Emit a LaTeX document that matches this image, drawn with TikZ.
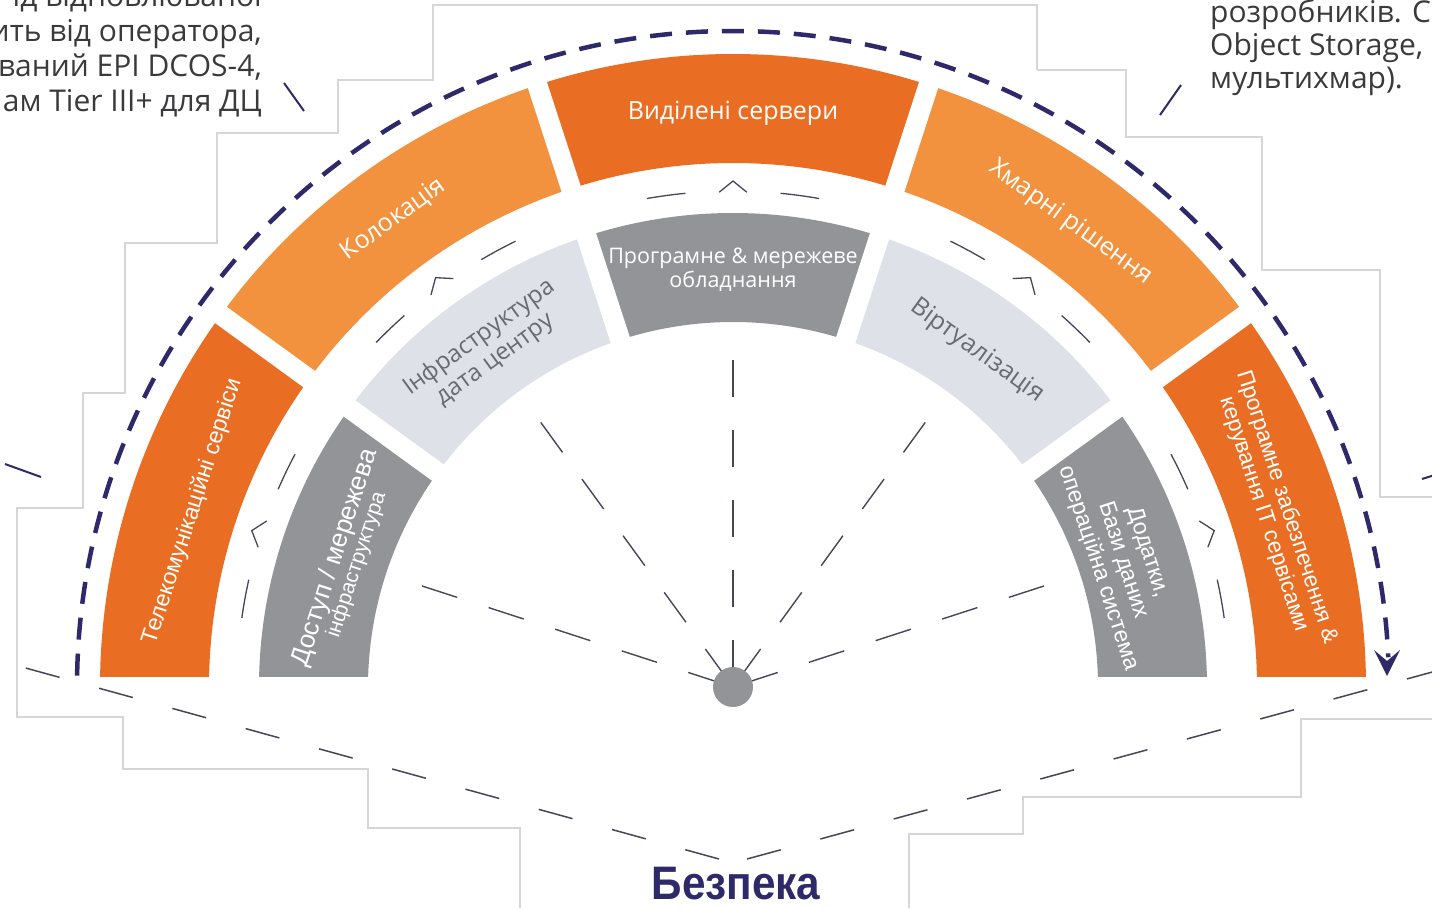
\documentclass[tikz,border=0pt]{standalone}
\usepackage{fontspec}
\usepackage{graphicx}
\setmainfont{Open Sans}
\newfontfamily\arialf{Liberation Sans}
\usetikzlibrary{calc}
\definecolor{orD}{HTML}{E96E23}
\definecolor{orL}{HTML}{F2923E}
\definecolor{grD}{HTML}{939498}
\definecolor{grL}{HTML}{DEE1E7}
\definecolor{navy}{HTML}{2E2A6A}
\definecolor{lineg}{HTML}{45465A}
\definecolor{frameg}{HTML}{D6D6DA}
\definecolor{txtg}{HTML}{6A6B70}
\definecolor{txtd}{HTML}{3A3A3C}
\newcommand{\ringseg}[5]{\fill[#1] ($(C)+(#2:#5)$) arc[start angle=#2, end angle=#3, radius=#5] -- ($(C)+(#3:#4)$) arc[start angle=#3, end angle=#2, radius=#4] -- cycle;}
\newcommand{\ringmarks}[1]{%
 \draw[markline] ($(C)+(#1+5.5:496)$) arc[start angle=#1+5.5, end angle=#1+10, radius=496];
 \draw[markline] ($(C)+(#1-5.5:496)$) arc[start angle=#1-5.5, end angle=#1-10, radius=496];
 \draw[markline] ($(C)+(#1+1.6:495)$) -- ($(C)+(#1:506)$) -- ($(C)+(#1-1.6:495)$);}
\begin{document}
\begin{tikzpicture}[x=1pt,y=1pt,
  frameline/.style={draw=frameg, line width=1.3pt},
  thinline/.style={draw=lineg, line width=1.4pt},
  markline/.style={draw=lineg, line width=1.3pt},
  vline/.style={draw=lineg, line width=1.5pt, dash pattern=on 35pt off 41pt},
  slash/.style={draw=navy, line width=2pt},
  ostext/.style={font=\fontsize{25}{29}\selectfont, align=center},
  artext/.style={font=\arialf\fontsize{23}{26}\selectfont, align=center},
  sidetext/.style={font=\fontsize{30}{35}\selectfont, text=txtd, inner sep=0pt},
]
\useasboundingbox (0,0) rectangle (1432,-908);
\coordinate (C) at (733,-687);

% background stepped frames
\draw[frameline] (1037,-70) -- (1037,-5) -- (433,-5) -- (433,-80) -- (338,-80) -- (338,-133) -- (217,-133) -- (217,-243) -- (125,-243) -- (125,-393) -- (83,-393) -- (83,-508) -- (17,-508) -- (17,-717) -- (123,-717) -- (123,-769) -- (368,-769) -- (368,-828) -- (520,-828) -- (520,-908);
\draw[frameline] (1037,-70) -- (1126,-70) -- (1126,-137) -- (1262,-137) -- (1262,-270) -- (1380,-270) -- (1380,-497) -- (1432,-497);
\draw[frameline] (909,-908) -- (909,-834) -- (1023,-834) -- (1023,-797) -- (1301,-797) -- (1301,-719) -- (1432,-719);

% rings
\begin{scope}
\clip (0,-676) rectangle (1432,0);
\ringseg{orD}{0}{36}{524}{633}
\ringseg{orL}{36}{72}{524}{633}
\ringseg{orD}{72}{108}{524}{633}
\ringseg{orL}{108}{144}{524}{633}
\ringseg{orD}{144}{180}{524}{633}
\ringseg{grD}{0}{36}{365}{474}
\ringseg{grL}{36}{72}{365}{474}
\ringseg{grD}{72}{108}{365}{474}
\ringseg{grL}{108}{144}{365}{474}
\ringseg{grD}{144}{180}{365}{474}
\end{scope}

% ring texts
\node[ostext, text=white, rotate=0] (t90) at ($(C)+(90:574)$) {Виділені сервери};
\node[ostext, text=white, rotate=36] (t126) at ($(C)+(126:578)$) {Колокація};
\node[ostext, text=white, rotate=-36] (t54) at ($(C)+(54:574)$) {Хмарні рішення};
\node[artext, text=white, rotate=72] (t162) at ($(C)+(162:568)$) {Телекомунікаційні сервіси};
\node[artext, text=white, rotate=-72, font=\arialf\fontsize{22.5}{24}\selectfont] (t18) at ($(C)+(18:570)$) {Програмне забезпечення \&\\керування IT сервісами};
\node[align=center, text=white, rotate=72] (g162) at ($(C)+(162:408)$) {{\arialf\fontsize{26}{27}\selectfont Доступ / мережева}\\{\arialf\fontsize{21}{21}\selectfont інфраструктура}};
\node[ostext, text=txtg, rotate=36, font=\fontsize{24}{27}\selectfont] (g126) at ($(C)+(126:418)$) {Інфраструктура\\дата центру};
\node[ostext, text=white, rotate=0, font=\fontsize{21.5}{24}\selectfont] (g90) at ($(C)+(90:417)$) {Програмне \& мережеве\\обладнання};
\node[ostext, text=txtg, rotate=-36, font=\fontsize{25}{28}\selectfont] (g54) at ($(C)+(54:415)$) {Віртуалізація};
\node[artext, text=white, rotate=-72, font=\arialf\fontsize{23}{26}\selectfont] (g18) at ($(C)+(18:410)$) {Додатки,\\Бази даних\\операційна система};

% white gaps between segments
\foreach \a in {36,72,108,144}
  \draw[white, line width=20pt] ($(C)+(\a:350)$) -- ($(C)+(\a:645)$);

% marks between rings
\foreach \m in {18,54,90,126,162} {\ringmarks{\m}}

% radial dashed lines
\foreach \m in {18,54,90,126,162}
  \draw[thinline, dash pattern=on 37pt off 33pt] ($(C)+(\m:327)$) -- (C);
\node[circle, fill=grD, minimum size=40pt, inner sep=0pt] (dot) at (C) {};

% outer dashed arc with arrow
\draw[navy, line width=4.5pt, dash pattern=on 22pt off 14pt] ($(C)+(179:656)$) arc[start angle=179, end angle=2.6, radius=656];
\fill[navy] (1387,-676) -- (1374,-650) -- (1387,-661) -- (1400,-650) -- cycle;

% security V lines
\coordinate (L0) at (22,-667);
\coordinate (L1) at (719,-859);
\coordinate (R0) at (1436,-671);
\coordinate (R1) at (747,-859);
\draw[vline] (L1) -- (L0);
\draw[vline] (R1) -- (R0);
\node[font=\arialf\bfseries\fontsize{47}{47}\selectfont, text=navy] (sec) at (736,-884) {\scalebox{0.9}[1]{Безпека}};

% side texts
\node[sidetext, anchor=base east] (l1) at (262,-6) {ід відновлюваної};
\node[sidetext, anchor=base east] (l2) at (262,-41) {ить від оператора,};
\node[sidetext, anchor=base east] (l3) at (262,-76) {ваний EPI DCOS-4,};
\node[sidetext, anchor=base east] (l4) at (262,-111) {ам Tier III+ для ДЦ};
\node[sidetext, anchor=base west] (r1) at (1210,-22) {розробників. С};
\node[sidetext, anchor=base west] (r2) at (1210,-55) {Object Storage,};
\node[sidetext, anchor=base west] (r3) at (1210,-88) {мультихмар).};

% short navy connector stubs
\coordinate (s1a) at (284,-83); \coordinate (s1b) at (304,-111);
\coordinate (s2a) at (1181,-85); \coordinate (s2b) at (1160,-115);
\coordinate (s3a) at (5,-464); \coordinate (s3b) at (41,-477);
\coordinate (s4a) at (1422,-479); \coordinate (s4b) at (1438,-474);
\draw[slash] (s1a) -- (s1b);
\draw[slash] (s2a) -- (s2b);
\draw[slash] (s3a) -- (s3b);
\draw[slash] (s4a) -- (s4b);
\end{tikzpicture}
\end{document}
